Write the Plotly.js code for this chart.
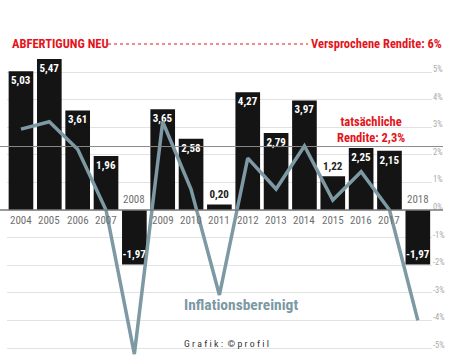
<!DOCTYPE html>
<html><head><meta charset="utf-8">
<script src="https://cdn.plot.ly/plotly-3.0.1.min.js"></script>
<style>html,body{margin:0;padding:0;background:#fff}#c{width:460px;height:356px}</style>
</head><body><div id="c"></div>
<script>
const years = [2004,2005,2006,2007,2008,2009,2010,2011,2012,2013,2014,2015,2016,2017,2018];
const nominal = [5.03,5.47,3.61,1.96,-1.97,3.65,2.58,0.20,4.27,2.79,3.97,1.22,2.25,2.15,-1.97];
const inflAdj = [2.93,3.2,2.2,0.0,-5.22,3.2,0.75,-3.08,1.88,0.76,2.32,0.36,1.39,0.0,-4.0];
const yTicks = [-5,-4,-3,-2,-1,0,1,2,3,4,5];
const yTickText = yTicks.map(v => v + '%');
const actualReturn = 2.3;

const F = '"Roboto Condensed","Liberation Sans Narrow","DejaVu Sans Condensed",sans-serif';
const labels = nominal.map(v => v.toFixed(2).replace('.', ','));
const outside = nominal.map(v => v >= 0 && v < 1.5);

const traces = [
  {type:'bar', x:years, y:nominal, width:0.87, marker:{color:'#141414'},
   text:labels, textposition: outside.map(o => o ? 'outside' : 'inside'), textangle:0,
   insidetextanchor:'end', constraintext:'none', cliponaxis:false,
   textfont:{family:F, size:11, weight:'bold', color: outside.map(o => o ? '#222' : '#fff')},
   hoverinfo:'skip'},
  {type:'scatter', mode:'lines', x:years, y:inflAdj,
   line:{color:'#7d99a4', width:3.5}, hoverinfo:'skip'}
];

const annotations = years.map((yr, i) => ({
  x: yr, y: 0, xref:'x', yref:'y', text: String(yr), showarrow:false,
  yanchor: nominal[i] < 0 ? 'bottom' : 'top', yshift: nominal[i] < 0 ? 2 : -2,
  font:{family:F, size:11, color:'#707070'}
}));
annotations.push(
  {xref:'paper', yref:'paper', x:10/460, y:1-44/356, xanchor:'left', yanchor:'middle',
   text:'ABFERTIGUNG NEU', showarrow:false, font:{family:F, size:12.5, weight:'bold', color:'#e3141b'}},
  {xref:'paper', yref:'paper', x:444/460, y:1-44/356, xanchor:'right', yanchor:'middle',
   text:'Versprochene Rendite: 6%', showarrow:false, font:{family:F, size:12.5, weight:'bold', color:'#e3141b'}},
  {xref:'paper', yref:'paper', x:371/460, y:1-129/356, xanchor:'center', yanchor:'middle',
   text:'tatsächliche<br>Rendite: 2,3%', showarrow:false, font:{family:F, size:12.5, weight:'bold', color:'#e3141b'}},
  {xref:'paper', yref:'paper', x:241/460, y:1-305/356, xanchor:'center', yanchor:'middle',
   text:'Inflationsbereinigt', showarrow:false, font:{family:F, size:15.5, weight:'bold', color:'#7d99a4'}},
  {xref:'paper', yref:'paper', x:226/460, y:1-343/356, xanchor:'center', yanchor:'middle',
   text:'G r a f i k :  © p r o f i l', showarrow:false, font:{family:F, size:9.8, color:'#333'}}
);

const shapes = [
  {type:'line', xref:'paper', yref:'paper', x0:108/460, x1:308/460, y0:1-44/356, y1:1-44/356,
   line:{color:'#e3141b', width:1, dash:'3px,3px'}},
  {type:'line', xref:'paper', yref:'y', x0:0, x1:443/460, y0:0, y1:0,
   line:{color:'#7a7a7a', width:1.3}},
  {type:'line', xref:'paper', yref:'y', x0:0, x1:443/460, y0:actualReturn, y1:actualReturn,
   line:{color:'#8a8a8a', width:1}, layer:'above'}
];

const layout = {
  width:460, height:356, margin:{l:0,r:0,t:0,b:0}, paper_bgcolor:'#fff', plot_bgcolor:'#fff',
  showlegend:false,
  xaxis:{range:[2003.5,2018.5], domain:[6.8/460, 432/460], showticklabels:false, showgrid:false,
         zeroline:false, ticks:'', fixedrange:true},
  yaxis:{range:[-5.29,7.61], domain:[0,1], side:'right', tickvals:yTicks, ticktext:yTickText,
         showgrid:true, gridcolor:'#e2e2e2', gridwidth:1, zeroline:false, ticks:'',
         ticklabelshift:-3,
         tickfont:{family:F, size:8.5, color:'#aaa'}, fixedrange:true},
  annotations, shapes
};
Plotly.newPlot('c', traces, layout, {staticPlot:true});
</script></body></html>
